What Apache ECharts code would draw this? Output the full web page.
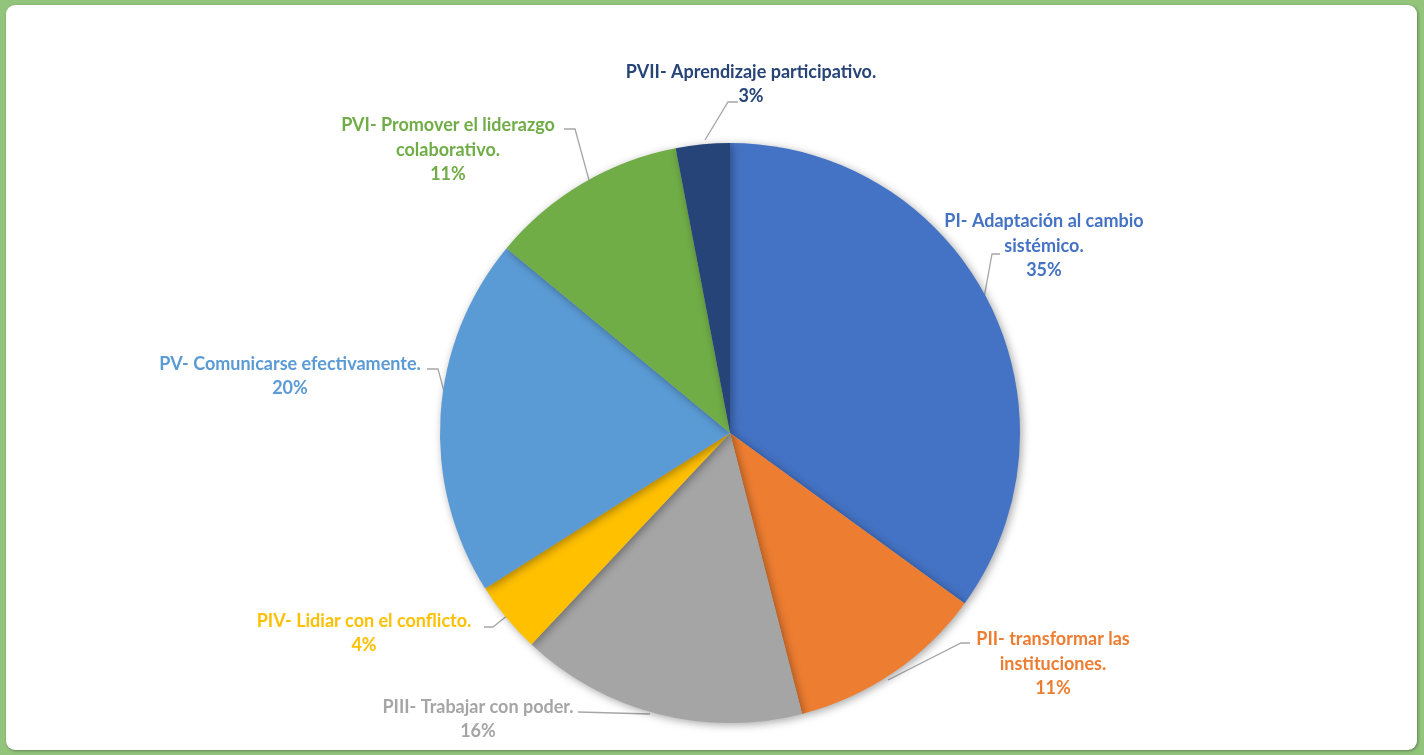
<!DOCTYPE html>
<html>
<head>
<meta charset="utf-8">
<script src="https://cdn.jsdelivr.net/npm/echarts@6/dist/echarts.min.js"></script>
<style>
  html, body { margin: 0; padding: 0; width: 1424px; height: 755px; overflow: hidden; background: #92C47C; }
  #frame { position: absolute; left: 6px; top: 5px; width: 1411px; height: 745px; background: #fff; border-radius: 9px; box-shadow: 1px 1px 3px rgba(0,0,0,0.35); }
  #chart { position: absolute; left: 0; top: 0; width: 1424px; height: 755px; }
</style>
</head>
<body>
<div id="frame"></div>
<div id="chart"></div>
<script>
const categories = [
  'PI- Adaptación al cambio\nsistémico.',
  'PII- transformar las\ninstituciones.',
  'PIII- Trabajar con poder.',
  'PIV- Lidiar con el conflicto.',
  'PV- Comunicarse efectivamente.',
  'PVI- Promover el liderazgo\ncolaborativo.',
  'PVII- Aprendizaje participativo.'
];
const values = [35, 11, 16, 4, 20, 11, 3];
const colors = ['#4472C4', '#ED7D31', '#A5A5A5', '#FFC000', '#5B9BD5', '#70AD47', '#264478'];

// label placement (centre of text block) and leader line points
const labelPos = [
  [1044, 246], [1053, 664], [478, 719], [364, 633], [290, 376], [448, 150], [751, 84]
];
const leaderPts = [
  [[984, 298], [992, 254], [1000, 254]],
  [[888, 680], [961, 643], [970, 643]],
  [[650, 714], [578, 712]],
  [[508, 615], [493, 627], [484, 627]],
  [[449, 410], [438, 369], [427, 369]],
  [[589, 180], [575, 129], [564, 129]],
  [[705, 140], [728, 102], [738, 102]]
];

const chart = echarts.init(document.getElementById('chart'), null, { renderer: 'canvas' });
chart.setOption({
  backgroundColor: 'transparent',
  animation: false,
  series: [{
    type: 'pie',
    center: [730, 433],
    radius: 290,
    startAngle: 90,
    clockwise: true,
    data: categories.map((c, i) => ({
      name: c, value: values[i],
      itemStyle: { color: colors[i] },
      label: { color: colors[i] }
    })),
    itemStyle: {
      borderWidth: 0,
      shadowBlur: 8,
      shadowColor: 'rgba(0,0,0,0.35)',
      shadowOffsetX: 2,
      shadowOffsetY: 2
    },
    label: {
      show: true,
      position: 'outside',
      formatter: p => p.name + '\n' + p.value + '%',
      fontFamily: 'Lato, "Open Sans", sans-serif',
      fontWeight: 'bold',
      fontSize: 18,
      lineHeight: 24.5,
      align: 'center'
    },
    labelLine: {
      show: true,
      lineStyle: { color: '#A6A6A6', width: 1.3 }
    },
    labelLayout: function (params) {
      const i = params.dataIndex;
      return {
        x: labelPos[i][0],
        y: labelPos[i][1],
        align: 'center',
        verticalAlign: 'middle',
        labelLinePoints: leaderPts[i]
      };
    }
  }]
});
</script>
</body>
</html>
